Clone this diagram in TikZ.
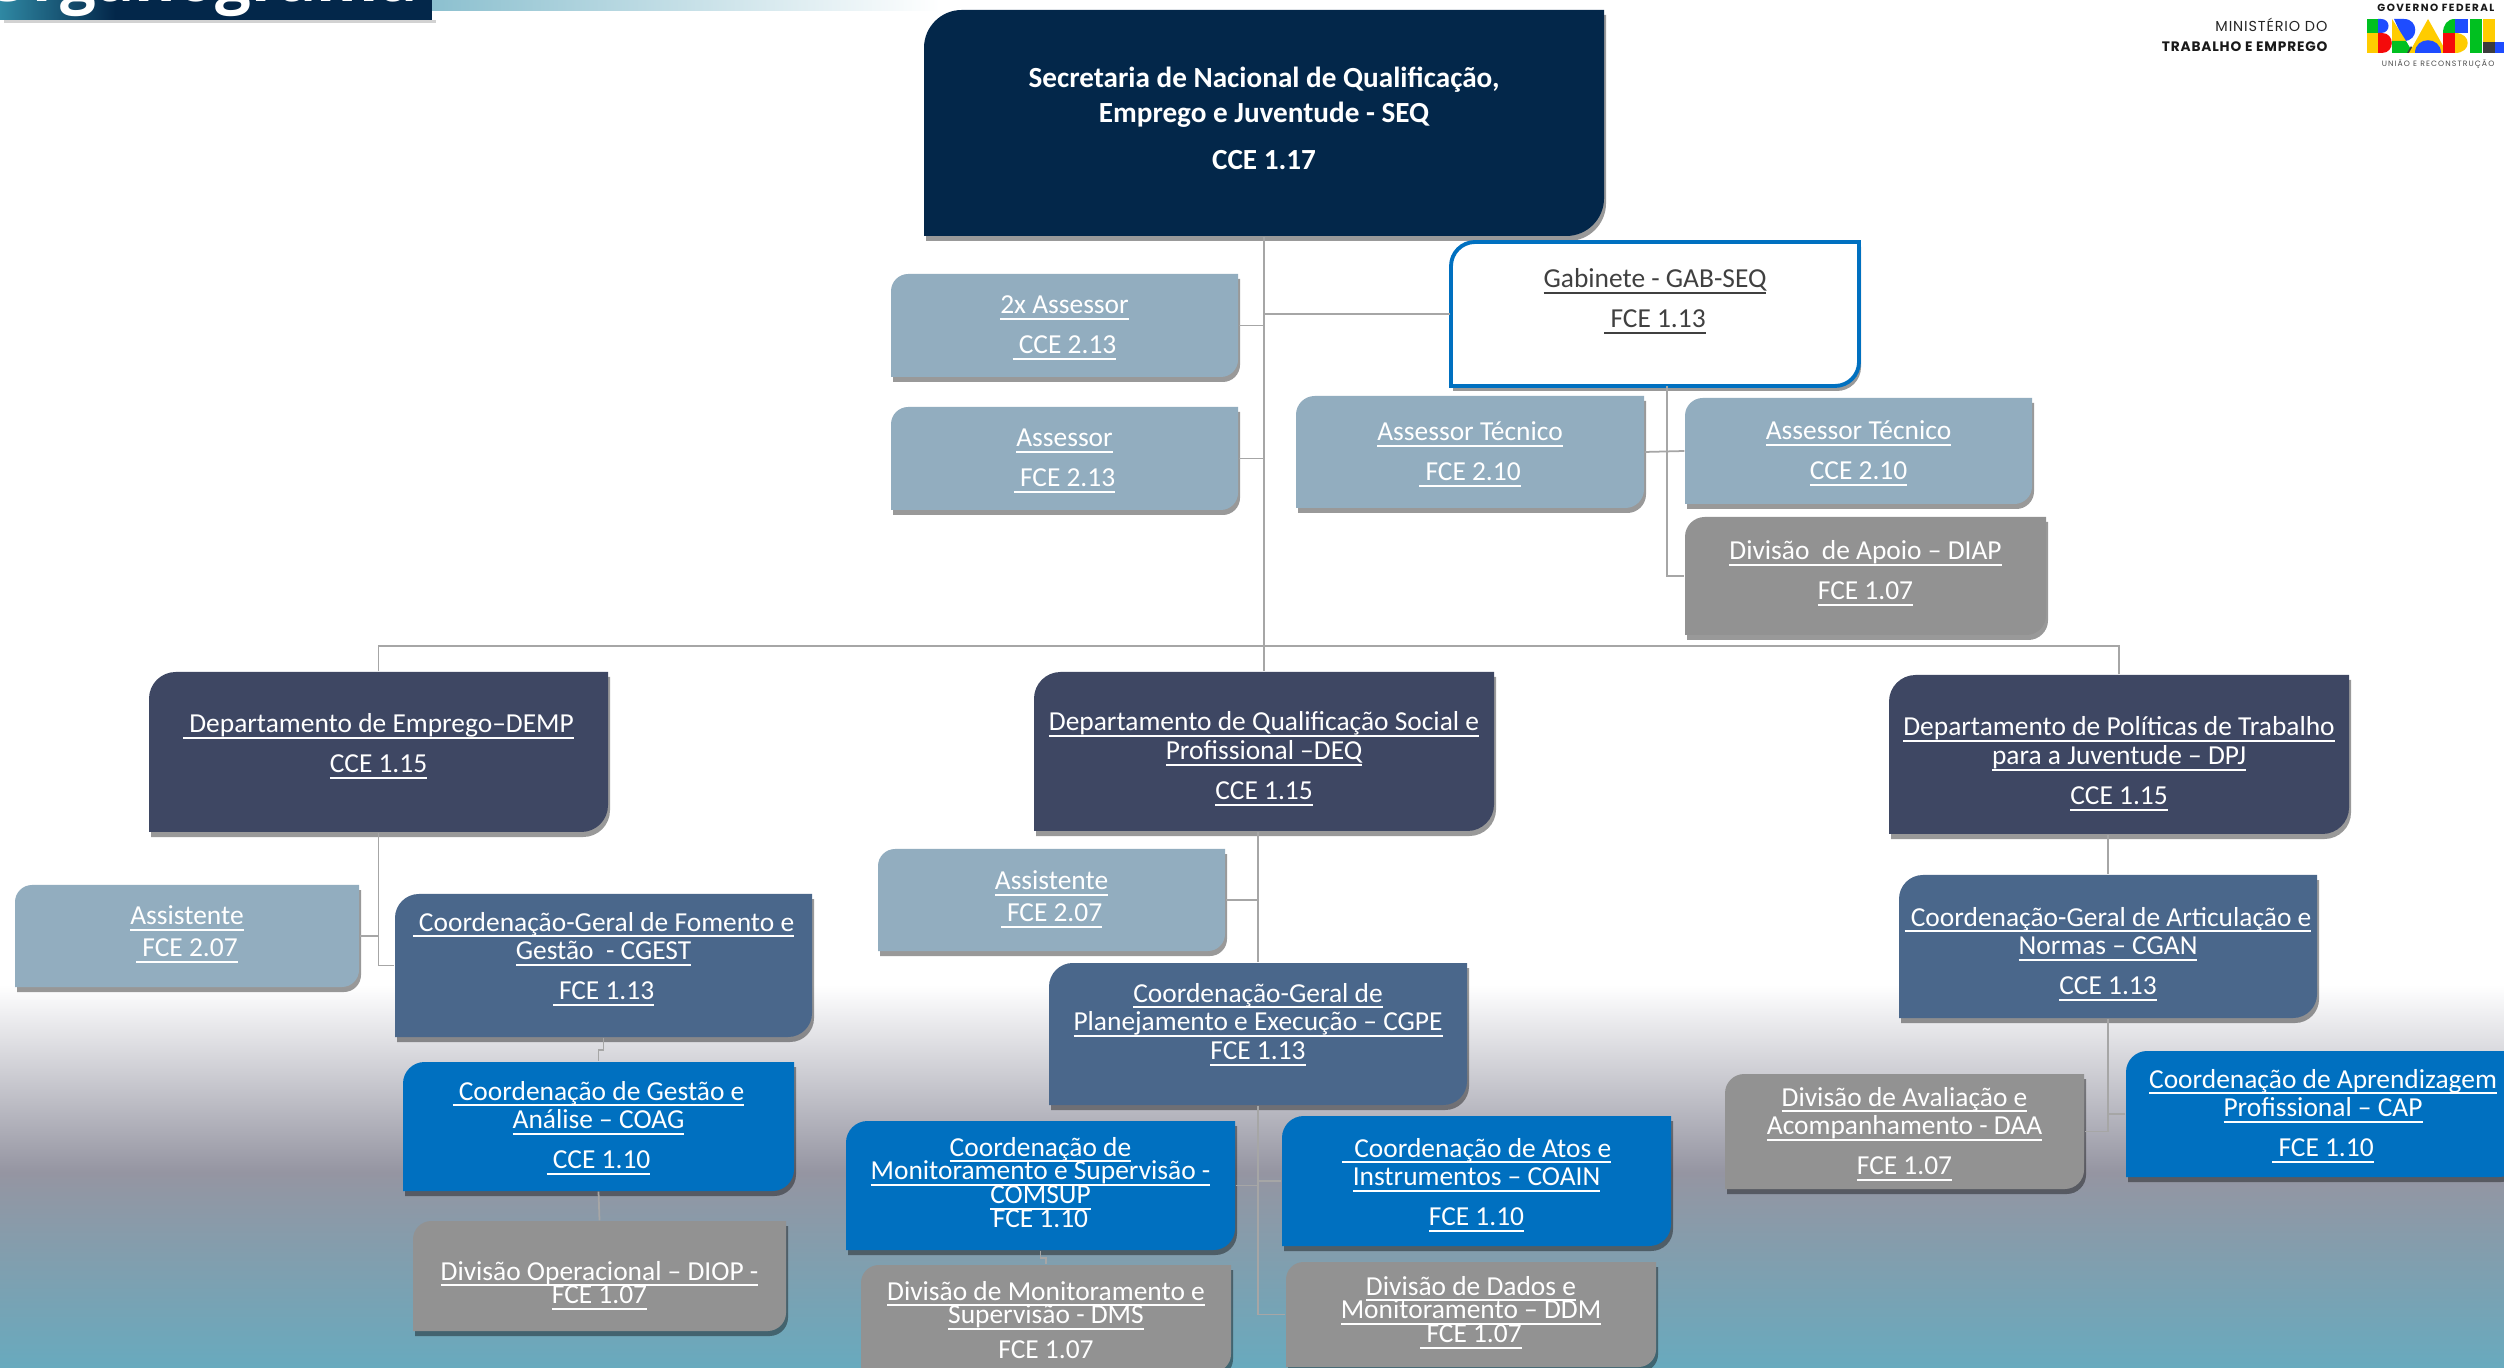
\documentclass[tikz,border=0pt]{standalone}
\usepackage{fontspec}
\setmainfont{Carlito}
\newfontfamily\logofont[LetterSpace=6]{Poppins}
\newfontfamily\logowide[LetterSpace=14]{Poppins}
\newfontfamily\titlefont{Open Sans}
\usetikzlibrary{shadows}

\definecolor{seqnavy}{HTML}{03274A}
\definecolor{deptblue}{HTML}{3E4763}
\definecolor{cgblue}{HTML}{4A678B}
\definecolor{coordblue}{HTML}{0070C0}
\definecolor{asrblue}{HTML}{92ADBF}
\definecolor{divgray}{HTML}{929292}
\definecolor{linegray}{HTML}{A6A6A6}
\definecolor{bandteal}{HTML}{8CC0CF}
\definecolor{logogreen}{HTML}{00C020}
\definecolor{logoyellow}{HTML}{FFCC00}
\definecolor{logoblue}{HTML}{1E4CFF}
\definecolor{logored}{HTML}{F50A0A}
\definecolor{logodark}{HTML}{3C3C3C}

\tikzset{
  boxshadow/.style={drop shadow={shadow xshift=0.02cm, shadow yshift=-0.05cm, opacity=0.4, fill=black}},
  seqbox/.style={fill=seqnavy, boxshadow},
  gabbox/.style={fill=white, draw=coordblue, line width=1.1pt, boxshadow},
  deptbox/.style={fill=deptblue, boxshadow},
  cgbox/.style={fill=cgblue, boxshadow},
  coordbox/.style={fill=coordblue, boxshadow},
  asrbox/.style={fill=asrblue, boxshadow},
  divbox/.style={fill=divgray, boxshadow},
  orgtext/.style={inner sep=0pt, text=white, font=\fontsize{7.8}{8.24}\selectfont},
  seqtext/.style={orgtext, font=\fontsize{8.3}{9.94}\selectfont\bfseries},
  orgline/.style={draw=linegray, line width=0.5pt},
}

\newlength{\orgpx}
\setlength{\orgpx}{0.01cm}
\newcommand{\ulin}[1]{\underline{\smash{#1}}}

% #1 name, #2 box style, #3-#6 corners, #7 first baseline below the top, #8 lines
\newcommand{\orgbox}[9][orgtext]{
  \pgfmathsetmacro{\orgr}{(#7-#5)/6}
  \pgfmathsetmacro{\orgc}{\orgr*0.45}
  \pgfmathsetlengthmacro{\orgw}{(#6-#4)*0.01cm}
  \pgfmathsetlengthmacro{\orgh}{(#7-#5)*0.01cm}
  \path[#3] (#4,#7) -- (#4,#5+\orgr)
    .. controls (#4,#5+\orgc) and (#4+\orgc,#5) .. (#4+\orgr,#5)
    -- (#6,#5) -- (#6,#7-\orgr)
    .. controls (#6,#7-\orgc) and (#6-\orgc,#7) .. (#6-\orgr,#7) -- cycle;
  \node[#1] (#2) at ({(#4+#6)/2},{(#5+#7)/2})
    {\parbox[c][\orgh][t]{\orgw}{\centering\vspace*{#8\orgpx}#9}};
}

\begin{document}
\begin{tikzpicture}[x=0.01cm, y=-0.01cm]
  \useasboundingbox (0,0) rectangle (2504,1368);
  \clip (0,0) rectangle (2504,1368);

  % backdrop
  \fill[white] (0,0) rectangle (2504,1368);
  \shade[top color=white, bottom color=black!10!gray!70!white!95!blue] (0,985) rectangle (2504,1172);
  \shade[top color=black!10!gray!70!white!95!blue, bottom color={rgb,255:red,104;green,170;blue,190}] (0,1172) rectangle (2504,1368);

  % title band
  \shade[left color=bandteal, right color=white] (432,0) rectangle (940,11);
  \fill[black!35, opacity=0.5] (4,20) rectangle (436,23);
  \fill[seqnavy] (0,0) rectangle (432,20);
  \shade[left color={rgb,255:red,47;green,136;blue,163}, right color=seqnavy] (0,0) rectangle (115,20);
  \node[anchor=base east, inner sep=0pt, text=white, font=\titlefont\fontsize{18}{18}\selectfont\bfseries]
    (title) at (418,2) {Organograma};

  % ministry mark
  \node[anchor=base east, inner sep=0pt, font=\logofont\fontsize{4.1}{5}\selectfont, text=black!85]
    (ministerio) at (2328,32) {MINISTÉRIO DO};
  \node[anchor=base east, inner sep=0pt, font=\logofont\fontsize{3.9}{5}\selectfont\bfseries, text=black!90]
    (trabalho) at (2328,52) {TRABALHO E EMPREGO};
  \node[anchor=base east, inner sep=0pt, font=\logowide\fontsize{2.95}{4}\selectfont\bfseries, text=black!90]
    (governo) at (2495,12) {GOVERNO FEDERAL};
  \node[anchor=base east, inner sep=0pt, font=\logowide\fontsize{2.2}{3}\selectfont, text=black!70]
    (uniao) at (2495,67) {UNIÃO E RECONSTRUÇÃO};

  % B
  \fill[logogreen] (2367,19) rectangle (2378,33);
  \fill[logoyellow] (2367,33) rectangle (2378,53);
  \fill[logoblue] (2378,19) -- (2381,19) .. controls (2391,19) and (2391,33) .. (2381,33) -- (2378,33) -- cycle;
  \fill[logored] (2378,33) -- (2382,33) .. controls (2395,33) and (2395,53) .. (2382,53) -- (2378,53) -- cycle;
  % R
  \fill[logoblue] (2394,19) -- (2404,19) .. controls (2419,19) and (2419,41) .. (2404,41) -- cycle;
  \fill[logoyellow] (2392,19) -- (2392,41) -- (2406,41) -- cycle;
  \fill[logogreen] (2392,41) -- (2406,41) -- (2413,53) -- (2392,53) -- cycle;
  \fill[logodark] (2407,53) -- (2411,46) -- (2415,53) -- cycle;
  % A
  \fill[logoyellow] (2428,19) -- (2409,53) -- (2447,53) -- cycle;
  \fill[logoblue] (2415,53) .. controls (2415,36) and (2441,36) .. (2441,53) -- cycle;
  \fill[logodark] (2443,53) -- (2443,46) -- (2451,53) -- cycle;
  % S
  \fill[logogreen] (2455,19) .. controls (2447,19) and (2443,25) .. (2443,33) -- (2455,33) -- cycle;
  \fill[logoblue] (2455,19) rectangle (2468,33);
  \fill[logored] (2443,33) rectangle (2455,53);
  \fill[logoyellow] (2455,33) .. controls (2472,33) and (2472,53) .. (2455,53) -- cycle;
  % I and L
  \fill[logogreen] (2470,19) rectangle (2482,53);
  \fill[logoyellow] (2483,19) rectangle (2495,42);
  \fill[logodark] (2483,42) rectangle (2495,53);
  \fill[logoblue] (2495,42) rectangle (2504,53);

  % top of the chart
  \orgbox[seqtext]{seq}{seqbox}{924}{10}{1604}{236}{57}{Secretaria de Nacional de Qualificação,\\ Emprego e Juventude - SEQ\\[3.4pt] CCE 1.17}
  \orgbox{gab}{gabbox}{1451}{242}{1859}{386}{46}{\color{black!75}\ulin{Gabinete - GAB-SEQ}\\[3.12pt]\ulin{\ FCE 1.13}}
  \orgbox{asrdois}{asrbox}{891}{274}{1238}{377}{40}{\ulin{2x Assessor}\\[3.12pt]\ulin{\ CCE 2.13}}
  \orgbox{asrum}{asrbox}{891}{407}{1238}{510}{40}{\ulin{Assessor}\\[3.12pt]\ulin{\ FCE 2.13}}
  \orgbox{atleft}{asrbox}{1296}{396}{1644}{508}{45}{\ulin{Assessor Técnico}\\[3.12pt]\ulin{\ FCE 2.10}}
  \orgbox{atright}{asrbox}{1685}{398}{2032}{504}{42}{\ulin{Assessor Técnico}\\[3.12pt]\ulin{CCE 2.10}}
  \orgbox{diap}{divbox}{1685}{517}{2046}{635}{43}{\ulin{Divisão\ \ de Apoio – DIAP}\\[3.12pt]\ulin{FCE 1.07}}

  % departamento de emprego
  \orgbox{demp}{deptbox}{149}{672}{608}{832}{61}{\ulin{\ Departamento de Emprego–DEMP}\\[3.12pt]\ulin{CCE 1.15}}
  \orgbox{assdemp}{asrbox}{15}{885}{359}{987}{40}{\ulin{Assistente}\\[0.85pt]\ulin{\ FCE 2.07}}
  \orgbox{cgest}{cgbox}{395}{894}{812}{1037}{37}{\ulin{\ Coordenação-Geral de Fomento e}\\\ulin{Gestão\ \ - CGEST}\\[3.12pt]\ulin{\ FCE 1.13}}
  \orgbox{coag}{coordbox}{403}{1062}{794}{1191}{38}{\ulin{\ Coordenação de Gestão e}\\\ulin{Análise – COAG}\\[3.12pt]\ulin{\ CCE 1.10}}
  \orgbox{diop}{divbox}{413}{1221}{786}{1331}{59}{\ulin{Divisão Operacional – DIOP -}\\[-1.42pt]\ulin{FCE 1.07}}

  % departamento de qualificacao
  \orgbox{deq}{deptbox}{1034}{672}{1494}{831}{59}{\ulin{Departamento de Qualificação Social e}\\\ulin{Profissional –DEQ}\\[3.12pt]\ulin{CCE 1.15}}
  \orgbox{assdeq}{asrbox}{878}{849}{1225}{951}{41}{\ulin{Assistente}\\[0.85pt]\ulin{\ FCE 2.07}}
  \orgbox{cgpe}{cgbox}{1049}{963}{1467}{1105}{39}{\ulin{Coordenação-Geral de}\\\ulin{Planejamento e Execução – CGPE}\\\ulin{FCE 1.13}}
  \orgbox{comsup}{coordbox}{846}{1121}{1235}{1250}{35}{\ulin{Coordenação de}\\[-1.42pt]\ulin{Monitoramento e Supervisão -}\\[-1.42pt]\ulin{COMSUP}\\[-1.42pt]\smash{FCE 1.10}}
  \orgbox{coain}{coordbox}{1282}{1116}{1671}{1246}{41}{\ulin{\ \ Coordenação de Atos e}\\\ulin{Instrumentos – COAIN}\\[3.12pt]\ulin{FCE 1.10}}
  \orgbox{dms}{divbox}{861}{1265}{1231}{1372}{35}{\ulin{Divisão de Monitoramento e}\\[-1.42pt]\ulin{Supervisão - DMS}\\[1.7pt]\smash{FCE 1.07}}
  \orgbox{ddm}{divbox}{1286}{1262}{1656}{1367}{33}{\ulin{Divisão de Dados e}\\[-1.42pt]\ulin{Monitoramento – DDM}\\[-1.42pt]\ulin{\ FCE 1.07}}

  % departamento de politicas
  \orgbox{dpj}{deptbox}{1889}{675}{2349}{834}{61}{\ulin{Departamento de Políticas de Trabalho}\\\ulin{para a Juventude – DPJ}\\[3.12pt]\ulin{CCE 1.15}}
  \orgbox{cgan}{cgbox}{1899}{875}{2317}{1018}{51}{\ulin{\ Coordenação-Geral de Articulação e}\\\ulin{Normas – CGAN}\\[3.12pt]\ulin{CCE 1.13}}
  \orgbox{daa}{divbox}{1725}{1074}{2084}{1189}{32}{\ulin{Divisão de Avaliação e}\\\ulin{Acompanhamento - DAA}\\[3.12pt]\ulin{FCE 1.07}}
  \orgbox{cap}{coordbox}{2126}{1051}{2520}{1177}{37}{\ulin{Coordenação de Aprendizagem}\\\ulin{Profissional – CAP}\\[3.12pt]\ulin{\ FCE 1.10}}

  \coordinate (bus) at (1264,646);
  \coordinate (gabstem) at (1667,386);

  \draw[orgline] (seq.south) -- (deq.north);
  \draw[orgline] (demp.north) |- (bus);
  \draw[orgline] (dpj.north) |- (bus);
  \draw[orgline] (gab.west) -- (gab.west -| seq.south);
  \draw[orgline] (asrdois.east) -- (asrdois.east -| seq.south);
  \draw[orgline] (asrum.east) -- (asrum.east -| seq.south);
  \draw[orgline] (gabstem) |- (diap.west);
  \draw[orgline] (atleft.east) -- (atright.west);

  \draw[orgline] (demp.south) |- (cgest.west);
  \draw[orgline] (assdemp.east) -- (assdemp.east -| demp.south);
  \draw[orgline] (cgest.south) -- ++(0,12) -| (coag.north);
  \draw[orgline] (coag.south) -- (diop.north);

  \draw[orgline] (cgpe.north |- deq.south) -- (cgpe.north);
  \draw[orgline] (assdeq.east) -- (assdeq.east -| cgpe.north);
  \draw[orgline] (cgpe.south) |- (ddm.west);
  \draw[orgline] (comsup.east) -- (comsup.east -| cgpe.south);
  \draw[orgline] (coain.west) -- (coain.west -| cgpe.south);
  \draw[orgline] (comsup.south) -- ++(0,7) -| (dms.north);

  \draw[orgline] (cgan.north |- dpj.south) -- (cgan.north);
  \draw[orgline] (cgan.south) |- (daa.east);
  \draw[orgline] (cap.west) -- (cap.west -| cgan.south);
\end{tikzpicture}
\end{document}
